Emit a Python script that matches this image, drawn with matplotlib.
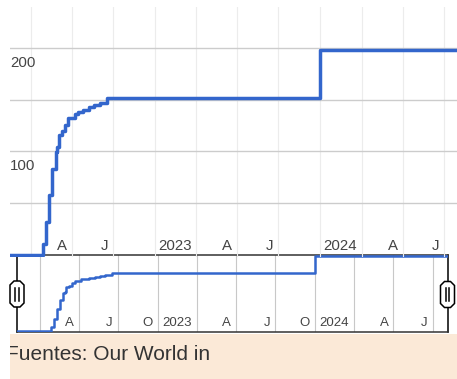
import matplotlib
matplotlib.use("Agg")
import matplotlib.pyplot as plt
import matplotlib.transforms as mtransforms
from matplotlib.patches import Polygon
from matplotlib.lines import Line2D
import pandas as pd

W, H, DPI = 457, 379, 100
FONT = "Liberation Sans"

# Cumulative count (step series)
step_dates = ["2021-11-01", "2022-01-27", "2022-02-03", "2022-02-10", "2022-02-17",
              "2022-02-24", "2022-02-27", "2022-03-03", "2022-03-10", "2022-03-17",
              "2022-03-24", "2022-04-07", "2022-04-15", "2022-04-25", "2022-05-09",
              "2022-05-20", "2022-06-02", "2022-06-17", "2023-10-01", "2024-08-10"]
step_values = [0, 10, 32, 58, 83, 99, 104, 116, 120, 126,
               132, 136, 138, 140, 143, 145, 147, 152, 198, 198]

main_ticks = ["2022-04-01", "2022-07-01", "2023-01-01", "2023-04-01",
              "2023-07-01", "2024-01-01", "2024-04-01", "2024-07-01"]
main_tick_labels = ["A", "J", "2023", "A", "J", "2024", "A", "J"]

nav_ticks = ["2022-04-01", "2022-07-01", "2022-10-01", "2023-01-01", "2023-04-01",
             "2023-07-01", "2023-10-01", "2024-01-01", "2024-04-01", "2024-07-01"]
nav_tick_labels = ["A", "J", "O", "2023", "A", "J", "O", "2024", "A", "J"]

quarter_starts = pd.date_range("2022-01-01", "2024-07-01", freq="QS")
y_gridlines = [50, 100, 150, 200]
y_labels = [100, 200]
source_text = "Fuentes: Our World in"

main_xlim = (pd.Timestamp("2021-11-15 12:00"), pd.Timestamp("2024-08-06"))
nav_xlim = (pd.Timestamp("2021-11-08 12:00"), pd.Timestamp("2024-08-06"))

dates = pd.to_datetime(step_dates)
blue = "#3366cc"

fig = plt.figure(figsize=(W / DPI, H / DPI), dpi=DPI)
fig.patch.set_facecolor("white")


def fx(px):
    return px / W


def fy(py):
    return 1 - py / H


def axes_px(x0, y0, x1, y1, **kw):
    return fig.add_axes([fx(x0), fy(y1), (x1 - x0) / W, (y1 - y0) / H], **kw)


def offset(dx, dy):
    return mtransforms.ScaledTranslation(dx / DPI, dy / DPI, fig.dpi_scale_trans)


# ---- navigator (range selector) ----
nav = axes_px(17, 255, 448, 332)
nav.set_xlim(*nav_xlim)
nav.set_ylim(-2.64, 200.6)
nav.set_xticks([])
nav.set_yticks([])
for q in quarter_starts:
    nav.axvline(q, color="#c8c8c8", lw=0.8, zorder=1)
nav.plot(dates, step_values, drawstyle="steps-post", color=blue, lw=1.8, zorder=3)
for side in ("top", "bottom"):
    nav.spines[side].set_color("#333333")
    nav.spines[side].set_linewidth(1.1)
for side in ("left", "right"):
    nav.spines[side].set_color("black")
    nav.spines[side].set_linewidth(1.1)
tr_nav = mtransforms.blended_transform_factory(nav.transData, nav.transAxes)
for d, lab in zip(pd.to_datetime(nav_ticks), nav_tick_labels):
    nav.text(d, 0, lab, transform=tr_nav + offset(-5, 5.5), ha="right", va="baseline",
             fontsize=9.5, color="#444444", family=FONT, zorder=4)

# ---- main chart ----
ax = axes_px(10, 7, 460.6, 257)
ax.patch.set_alpha(0)
ax.set_xlim(*main_xlim)
ax.set_ylim(-2.4, 240)
ax.set_xticks([])
ax.set_yticks([])
for s in ax.spines.values():
    s.set_visible(False)
for q in quarter_starts:
    ax.axvline(q, color="#ececec", lw=0.8, zorder=1)
for v in y_gridlines:
    ax.axhline(v, color="#cccccc", lw=1.0, zorder=1)
ax.plot(dates, step_values, drawstyle="steps-post", color=blue, lw=2.5, zorder=3)
tr_main = mtransforms.blended_transform_factory(ax.transData, ax.transAxes)
for d, lab in zip(pd.to_datetime(main_ticks), main_tick_labels):
    ax.text(d, 0, lab, transform=tr_main + offset(-5, 7.5), ha="right", va="baseline",
            fontsize=10.8, color="#444444", family=FONT, zorder=4)
tr_y = mtransforms.blended_transform_factory(ax.transAxes, ax.transData)
for v in y_labels:
    ax.text(0, v, str(v), transform=tr_y + offset(0, -19), ha="left", va="baseline",
            fontsize=10.8, color="#444444", family=FONT, zorder=4)

# ---- range handles ----
def handle(cx, cy, w=14, h=26, c=4):
    pts = [(cx - w / 2 + c, cy - h / 2), (cx + w / 2 - c, cy - h / 2),
           (cx + w / 2, cy - h / 2 + c), (cx + w / 2, cy + h / 2 - c),
           (cx + w / 2 - c, cy + h / 2), (cx - w / 2 + c, cy + h / 2),
           (cx - w / 2, cy + h / 2 - c), (cx - w / 2, cy - h / 2 + c)]
    fig.add_artist(Polygon([(fx(x), fy(y)) for x, y in pts], closed=True,
                           transform=fig.transFigure, facecolor="white",
                           edgecolor="black", lw=1.1, zorder=10))
    for dx in (-1.7, 1.7):
        fig.add_artist(Line2D([fx(cx + dx)] * 2, [fy(cy - 6.5), fy(cy + 6.5)],
                              transform=fig.transFigure, color="black", lw=1.1,
                              zorder=11))


handle(17, 294)
handle(447.5, 294.5)

# ---- source footer ----
foot = axes_px(10, 334, 457, 379)
foot.set_facecolor("#fbe9d7")
foot.set_xticks([])
foot.set_yticks([])
for s in foot.spines.values():
    s.set_visible(False)
foot.text((6.5 - 10) / 447, (379 - 360.5) / 45, source_text, transform=foot.transAxes,
          ha="left", va="baseline", fontsize=15, color="#333333", family=FONT,
          clip_on=True)

fig.savefig("out.png", dpi=DPI, facecolor="white")
